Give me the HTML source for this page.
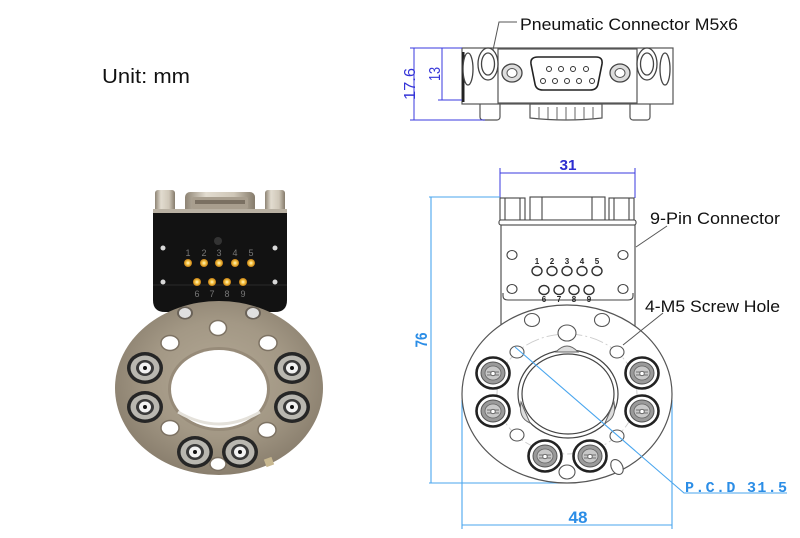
<!DOCTYPE html>
<html><head><meta charset="utf-8"><style>
html,body{margin:0;padding:0;background:#fff;}
svg{display:block;}
text{font-family:"Liberation Sans",sans-serif;}
</style></head><body>
<svg width="800" height="538" viewBox="0 0 800 538" xmlns="http://www.w3.org/2000/svg">
<defs>
<radialGradient id="ringG" cx="50%" cy="45%" r="55%">
<stop offset="0" stop-color="#b3a895"/><stop offset="0.6" stop-color="#a39885"/><stop offset="1" stop-color="#8a7f6e"/>
</radialGradient>
<linearGradient id="metal" x1="0" x2="1" y1="0" y2="0">
<stop offset="0" stop-color="#8e8474"/><stop offset="0.3" stop-color="#e2dcd0"/><stop offset="0.7" stop-color="#cfc7b8"/><stop offset="1" stop-color="#857b6b"/>
</linearGradient>
<radialGradient id="pin" cx="50%" cy="50%" r="50%">
<stop offset="0" stop-color="#fff6d0"/><stop offset="0.45" stop-color="#f7c84a"/><stop offset="1" stop-color="#c27a10"/>
</radialGradient>
<g id="pf">
<ellipse cx="0" cy="0" rx="18" ry="16" fill="#262626"/>
<ellipse cx="0" cy="0" rx="14.5" ry="12.5" fill="#b9b7b0"/>
<ellipse cx="0" cy="0" rx="9" ry="8" fill="#3a3a3a"/>
<ellipse cx="0" cy="0" rx="6" ry="5.5" fill="#f2f2f2"/>
<circle cx="0" cy="0" r="2" fill="#111"/>
</g>
<g id="df">
<ellipse cx="0" cy="0" rx="16.5" ry="15.5" fill="#fff" stroke="#222" stroke-width="2.6"/>
<ellipse cx="0" cy="0" rx="12" ry="11" fill="#9a9a9a" stroke="#555" stroke-width="1"/>
<ellipse cx="0" cy="0" rx="8" ry="7" fill="#c8c8c8" stroke="#666" stroke-width="0.8"/>
<path d="M-6 -1 H6 M-6 2 H6" stroke="#555" stroke-width="0.8"/>
<circle cx="0" cy="0.5" r="2.2" fill="#fff" stroke="#555" stroke-width="0.8"/>
</g>
</defs>

<!-- Unit label -->
<text x="102" y="83" font-size="20" textLength="88" lengthAdjust="spacingAndGlyphs" fill="#111">Unit: mm</text>

<!-- ================= PHOTO ================= -->
<rect x="155" y="190" width="20" height="24" rx="3" fill="url(#metal)"/>
<rect x="265" y="190" width="20" height="24" rx="3" fill="url(#metal)"/>
<rect x="185" y="192" width="70" height="22" rx="5" fill="url(#metal)"/>
<rect x="192" y="197" width="56" height="12" rx="2" fill="#a89e8e"/>
<rect x="195" y="200" width="50" height="4" fill="#7a7062"/>
<rect x="153" y="209" width="134" height="6" fill="#b8b0a2"/>
<path d="M153 213 H287 V300 Q287 312 275 312 H165 Q153 312 153 300 Z" fill="#121212"/>
<path d="M153 285 H287" stroke="#2a2a2a" stroke-width="1"/>
<circle cx="218" cy="241" r="4" fill="#333"/>
<g fill="#d8d8d8"><circle cx="163" cy="248" r="2.5"/><circle cx="275" cy="248" r="2.5"/><circle cx="163" cy="282" r="2.5"/><circle cx="275" cy="282" r="2.5"/></g>
<g font-size="9" fill="#777" text-anchor="middle">
<text x="188" y="256">1</text><text x="204" y="256">2</text><text x="219" y="256">3</text><text x="235" y="256">4</text><text x="251" y="256">5</text>
<text x="197" y="297">6</text><text x="212" y="297">7</text><text x="227" y="297">8</text><text x="243" y="297">9</text>
</g>
<g fill="url(#pin)">
<circle cx="188" cy="263" r="4"/><circle cx="204" cy="263" r="4"/><circle cx="219" cy="263" r="4"/><circle cx="235" cy="263" r="4"/><circle cx="251" cy="263" r="4"/>
<circle cx="197" cy="282" r="4"/><circle cx="212" cy="282" r="4"/><circle cx="227" cy="282" r="4"/><circle cx="243" cy="282" r="4"/>
</g>
<ellipse cx="219" cy="388" rx="104" ry="87" fill="url(#ringG)"/>
<ellipse cx="219" cy="389" rx="51" ry="42" fill="#978b79"/>
<ellipse cx="219" cy="389" rx="48" ry="39" fill="#fff"/>
<path d="M178 412 Q219 436 260 412" stroke="#e4e1da" stroke-width="3" fill="none"/>
<g><ellipse cx="185" cy="313" rx="8" ry="6.5" fill="#6a6258"/><ellipse cx="185" cy="313" rx="6" ry="5" fill="#e0e0e0"/>
<ellipse cx="253" cy="313" rx="8" ry="6.5" fill="#6a6258"/><ellipse cx="253" cy="313" rx="6" ry="5" fill="#e0e0e0"/></g>
<g fill="#fff" stroke="#7d7263" stroke-width="1.5">
<ellipse cx="218" cy="328" rx="8.5" ry="7.5"/>
<ellipse cx="170" cy="343" rx="9" ry="7.5"/><ellipse cx="268" cy="343" rx="9" ry="7.5"/>
<ellipse cx="170" cy="428" rx="9" ry="7.5"/><ellipse cx="267" cy="430" rx="9" ry="7.5"/>
<ellipse cx="218" cy="464" rx="8" ry="6.5"/>
</g>
<rect x="265" y="458" width="8" height="8" fill="#c8b890" transform="rotate(-20 269 462)"/>
<use href="#pf" transform="translate(145 368)"/>
<use href="#pf" transform="translate(145 407)"/>
<use href="#pf" transform="translate(292 368)"/>
<use href="#pf" transform="translate(292 407)"/>
<use href="#pf" transform="translate(195 452)"/>
<use href="#pf" transform="translate(240 452)"/>

<!-- ================= SIDE VIEW ================= -->
<g stroke="#555" stroke-width="1.2" fill="#fff">
<rect x="480" y="100" width="20" height="20" rx="3"/>
<rect x="630" y="100" width="20" height="20" rx="3"/>
<path d="M530 104 H602 V118 Q566 122 530 118 Z"/>
<rect x="462" y="48" width="211" height="56"/>
<rect x="498" y="49" width="139" height="54"/>
</g>
<g stroke="#666" stroke-width="1" fill="none">
<path d="M539 107 V119 M548 107 V119 M557 107 V120 M566 107 V120 M575 107 V120 M584 107 V120 M593 107 V119"/>
</g>
<rect x="462" y="52" width="2.5" height="50" fill="#222"/>
<g stroke="#444" stroke-width="1.3" fill="#fff">
<ellipse cx="468" cy="69" rx="5" ry="16"/>
<ellipse cx="488" cy="64" rx="10" ry="16"/><ellipse cx="488" cy="64" rx="6.5" ry="11"/>
<ellipse cx="647" cy="64" rx="10" ry="16"/><ellipse cx="647" cy="64" rx="6.5" ry="11"/>
<ellipse cx="665" cy="69" rx="5" ry="16"/>
</g>
<g stroke="#444" stroke-width="1.3" fill="#ddd">
<ellipse cx="512" cy="73" rx="10" ry="9"/><ellipse cx="620" cy="73" rx="10" ry="9"/>
</g>
<g fill="#fff" stroke="#555" stroke-width="1"><ellipse cx="512" cy="73" rx="5" ry="4.5"/><ellipse cx="620" cy="73" rx="5" ry="4.5"/></g>
<path d="M538 57 H596 Q603 57 602 64 L598 84 Q597 90 590 90 H543 Q536 90 535 84 L531 64 Q530 57 538 57 Z" fill="#fff" stroke="#222" stroke-width="1.6"/>
<g fill="#fff" stroke="#333" stroke-width="1">
<circle cx="549" cy="69" r="2.5"/><circle cx="561" cy="69" r="2.5"/><circle cx="573" cy="69" r="2.5"/><circle cx="586" cy="69" r="2.5"/>
<circle cx="543" cy="81" r="2.5"/><circle cx="555" cy="81" r="2.5"/><circle cx="567" cy="81" r="2.5"/><circle cx="579" cy="81" r="2.5"/><circle cx="592" cy="81" r="2.5"/>
</g>
<polyline points="517,22 499,22 493,50" fill="none" stroke="#555" stroke-width="1"/>
<text x="520" y="30" font-size="17" textLength="218" lengthAdjust="spacingAndGlyphs" fill="#111">Pneumatic Connector M5x6</text>
<g stroke="#3a3adf" stroke-width="1" fill="none">
<path d="M414 48 V120 M442 48 V100 M410 48 H462 M438 100 H462 M410 120 H485"/>
</g>
<text transform="translate(415 84) rotate(-90)" font-size="16" text-anchor="middle" fill="#3434d8" textLength="32" lengthAdjust="spacingAndGlyphs">17.6</text>
<text transform="translate(440 74) rotate(-90)" font-size="16" text-anchor="middle" fill="#3434d8" textLength="14" lengthAdjust="spacingAndGlyphs">13</text>

<!-- ================= FRONT VIEW ================= -->
<g stroke="#3a3adf" stroke-width="1" fill="none">
<path d="M500 168 V198 M635 168 V198 M500 173 H635"/>
</g>
<text x="568" y="170" font-size="15" font-weight="bold" text-anchor="middle" fill="#2d2dd0" textLength="17" lengthAdjust="spacingAndGlyphs">31</text>
<g stroke="#4aa6ee" stroke-width="1.1" fill="none">
<path d="M431 197 V483 M429 197 H500 M429 483 H567"/>
<path d="M462 400 V529 M672 400 V529 M462 525 H672"/>
</g>
<text transform="translate(427 340) rotate(-90)" font-size="17" font-weight="bold" text-anchor="middle" fill="#2b8de6" textLength="15" lengthAdjust="spacingAndGlyphs">76</text>
<text x="578" y="523" font-size="17" font-weight="bold" text-anchor="middle" fill="#2b8de6" textLength="19" lengthAdjust="spacingAndGlyphs">48</text>
<text x="685" y="492" font-size="15" font-weight="bold" fill="#2b8de6" textLength="102" lengthAdjust="spacing" style="font-family:'Liberation Mono',monospace">P.C.D  31.5</text>

<g stroke="#444" stroke-width="1.1" fill="#fff">
<rect x="500" y="198" width="25" height="22"/><rect x="530" y="197" width="75" height="23"/><rect x="609" y="198" width="25" height="22"/>
<rect x="499" y="220" width="137" height="5" rx="2"/>
<path d="M505 198 V220 M520 198 V220 M542 197 V220 M592 197 V220 M614 198 V220 M629 198 V220" fill="none"/>
<rect x="501" y="225" width="134" height="110"/>
</g>
<path d="M503 293 V296 Q503 300 508 300 H628 Q633 300 633 296 V293" fill="none" stroke="#444" stroke-width="1.1"/>
<g fill="#fff" stroke="#444" stroke-width="1.1">
<ellipse cx="512" cy="255" rx="5" ry="4.5"/><ellipse cx="623" cy="255" rx="5" ry="4.5"/>
<ellipse cx="512" cy="289" rx="5" ry="4.5"/><ellipse cx="623" cy="289" rx="5" ry="4.5"/>
</g>
<g fill="#fff" stroke="#333" stroke-width="1.4">
<ellipse cx="537" cy="271" rx="5" ry="4.5"/><ellipse cx="552" cy="271" rx="5" ry="4.5"/><ellipse cx="567" cy="271" rx="5" ry="4.5"/><ellipse cx="582" cy="271" rx="5" ry="4.5"/><ellipse cx="597" cy="271" rx="5" ry="4.5"/>
<ellipse cx="544" cy="290" rx="5" ry="4.5"/><ellipse cx="559" cy="290" rx="5" ry="4.5"/><ellipse cx="574" cy="290" rx="5" ry="4.5"/><ellipse cx="589" cy="290" rx="5" ry="4.5"/>
</g>
<g font-size="8" font-weight="bold" fill="#222" text-anchor="middle">
<text x="537" y="264">1</text><text x="552" y="264">2</text><text x="567" y="264">3</text><text x="582" y="264">4</text><text x="597" y="264">5</text>
<text x="544" y="302">6</text><text x="559" y="302">7</text><text x="574" y="302">8</text><text x="589" y="302">9</text>
</g>
<ellipse cx="567" cy="394" rx="105" ry="89" fill="#fff" stroke="#555" stroke-width="1.2"/>
<ellipse cx="567" cy="394" rx="70" ry="60" fill="none" stroke="#ccc" stroke-width="0.9" stroke-dasharray="14 3 2 3"/>
<ellipse cx="568" cy="394" rx="50" ry="44" fill="#fff" stroke="#444" stroke-width="1.2"/>
<ellipse cx="568" cy="394" rx="46" ry="40" fill="#fff" stroke="#444" stroke-width="1.2"/>
<g fill="#ddd" stroke="#666" stroke-width="1">
<path d="M556 352 Q567 340 578 352 Z"/>
<path d="M521 402 Q518 418 530 423 Z"/>
<path d="M614 402 Q617 418 605 423 Z"/>
</g>
<g fill="#fff" stroke="#555" stroke-width="1.1">
<ellipse cx="532" cy="320" rx="7.5" ry="6.5"/><ellipse cx="602" cy="320" rx="7.5" ry="6.5"/>
<ellipse cx="567" cy="333" rx="9" ry="8"/>
<ellipse cx="517" cy="352" rx="7" ry="6"/><ellipse cx="617" cy="352" rx="7" ry="6"/>
<ellipse cx="517" cy="435" rx="7" ry="6"/><ellipse cx="617" cy="436" rx="7" ry="6"/>
<ellipse cx="567" cy="472" rx="8" ry="7"/>
<ellipse cx="617" cy="467" rx="5.5" ry="8" transform="rotate(-30 617 467)"/>
</g>
<use href="#df" transform="translate(493 373)"/>
<use href="#df" transform="translate(493 411)"/>
<use href="#df" transform="translate(642 373)"/>
<use href="#df" transform="translate(642 411)"/>
<use href="#df" transform="translate(545 456)"/>
<use href="#df" transform="translate(590 456)"/>
<!-- PCD line on top -->
<path d="M515 347 L684 493 H787" stroke="#4aa6ee" stroke-width="1.1" fill="none"/>

<path d="M667 226 L636 247" stroke="#555" stroke-width="1" fill="none"/>
<text x="650" y="224" font-size="17" textLength="130" lengthAdjust="spacingAndGlyphs" fill="#111">9-Pin Connector</text>
<path d="M663 313 L623 345" stroke="#555" stroke-width="1" fill="none"/>
<text x="645" y="312" font-size="17" textLength="135" lengthAdjust="spacingAndGlyphs" fill="#111">4-M5 Screw Hole</text>
</svg>
</body></html>
